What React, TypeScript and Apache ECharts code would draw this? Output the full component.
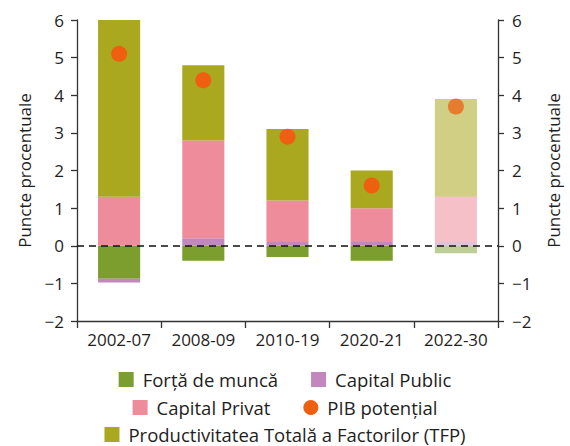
import React, { useEffect, useRef } from "react";
import * as echarts from "echarts";

const categories = ["2002-07", "2008-09", "2010-19", "2020-21", "2022-30"];
const labour = [-0.88, -0.4, -0.3, -0.4, -0.2];
const publicCap = [-0.1, 0.2, 0.1, 0.1, 0.1];
const privateCap = [1.3, 2.6, 1.1, 0.9, 1.2];
const tfp = [4.7, 2.0, 1.9, 1.0, 2.6];
const potentialGdp = [5.1, 4.4, 2.9, 1.6, 3.7];
const yTicks = [-2, -1, 0, 1, 2, 3, 4, 5, 6];

const FONT = "Open Sans";
const FW = 400;
const FS = 17;
const LFS = 18.5;
const TXT = "#1e1e1e";

const fade = (arr: number[], op: number) =>
  arr.map((v, i) => (i === arr.length - 1 ? { value: v, itemStyle: { opacity: op } } : v));

export default function App() {
  const ref = useRef<HTMLDivElement>(null);
  useEffect(() => {
    document.body.style.margin = "0";
    if (!ref.current) return;
    const chart = echarts.init(ref.current, null, { renderer: "svg" });
    const yAxisBase = {
      type: "value",
      min: yTicks[0],
      max: yTicks[yTicks.length - 1],
      interval: 1,
      splitLine: { show: false },
      axisLine: { show: true, lineStyle: { color: "#333", width: 1.3 } },
      axisTick: { show: true, length: 6, lineStyle: { color: "#333", width: 1.3 } },
      axisLabel: {
        color: TXT,
        fontSize: FS,
        fontFamily: FONT,
        fontWeight: FW,
        formatter: (v: number) => (v < 0 ? "\u2212" + Math.abs(v) : String(v)),
      },
      name: "Puncte procentuale",
      nameLocation: "middle",
      nameRotate: 90,
      nameTextStyle: { color: TXT, fontSize: FS, fontFamily: FONT, fontWeight: FW },
    };
    const legendBase = {
      itemWidth: 15,
      itemHeight: 15,
      itemGap: 33,
      left: "center",
      padding: 0,
      textStyle: { color: TXT, fontSize: LFS, fontFamily: FONT, fontWeight: FW, padding: [0, 0, 0, 4] },
    };
    chart.setOption({
      animation: false,
      grid: { left: 77, right: 67, top: 20, bottom: 125 },
      xAxis: {
        type: "category",
        data: categories,
        axisLine: { onZero: false, lineStyle: { color: "#333", width: 1.3 } },
        axisTick: { show: true, length: 7, lineStyle: { color: "#333", width: 1.3 } },
        axisLabel: { color: TXT, fontSize: FS, fontFamily: FONT, fontWeight: FW, margin: 10, interval: 0 },
      },
      yAxis: [
        { ...yAxisBase, position: "left", nameGap: 44, axisLabel: { ...yAxisBase.axisLabel, margin: 13 } },
        { ...yAxisBase, position: "right", nameGap: 47, axisLabel: { ...yAxisBase.axisLabel, margin: 14 } },
      ],
      legend: [
        { ...legendBase, top: 370, data: [{ name: "Forță de muncă", icon: "rect" }, { name: "Capital Public", icon: "rect" }] },
        { ...legendBase, top: 398, data: [{ name: "Capital Privat", icon: "rect" }, { name: "PIB potențial", icon: "circle" }] },
        { ...legendBase, top: 425, data: [{ name: "Productivitatea Totală a Factorilor (TFP)", icon: "rect" }] },
      ],
      series: [
        {
          name: "Forță de muncă",
          type: "bar",
          stack: "s",
          barWidth: "50%",
          itemStyle: { color: "#7C9E2E" },
          data: fade(labour, 0.5),
          markLine: {
            silent: true,
            symbol: "none",
            label: { show: false },
            lineStyle: { color: "#111", type: [7, 5], width: 1.5 },
            data: [{ yAxis: 0 }],
            z: 10,
          },
        },
        {
          name: "Capital Public",
          type: "bar",
          stack: "s",
          itemStyle: { color: "#C088BC" },
          data: fade(publicCap, 0.5),
        },
        {
          name: "Capital Privat",
          type: "bar",
          stack: "s",
          itemStyle: { color: "#EE8C9C" },
          data: fade(privateCap, 0.55),
        },
        {
          name: "Productivitatea Totală a Factorilor (TFP)",
          type: "bar",
          stack: "s",
          itemStyle: { color: "#AAA81E" },
          data: fade(tfp, 0.55),
        },
        {
          name: "PIB potențial",
          type: "scatter",
          symbol: "circle",
          symbolSize: 16,
          z: 5,
          itemStyle: { color: "#EE6010", opacity: 1 },
          data: fade(potentialGdp, 0.75),
        },
      ],
    });
    return () => chart.dispose();
  }, []);
  return <div ref={ref} style={{ width: 570, height: 446 }} />;
}
